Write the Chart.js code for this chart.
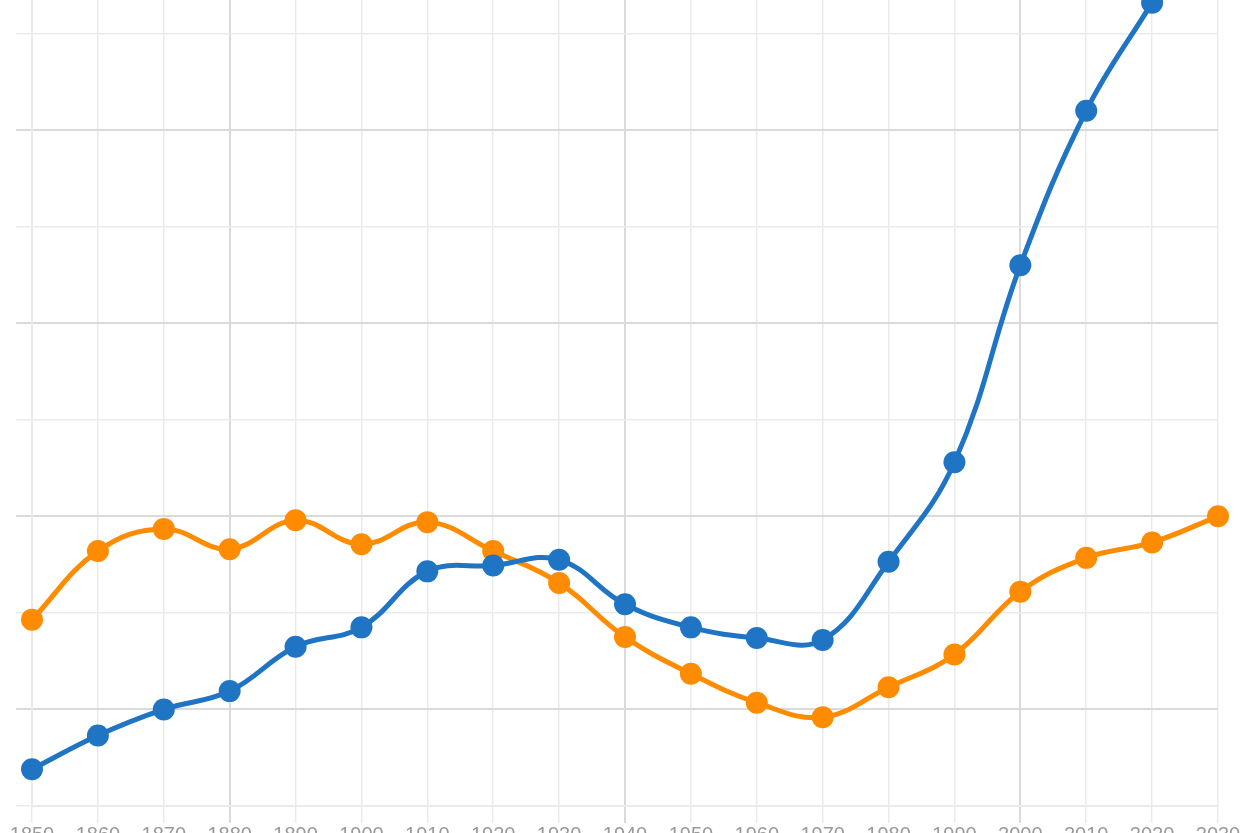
<!DOCTYPE html>
<html>
<head>
<meta charset="utf-8">
<script src="https://cdn.jsdelivr.net/npm/chart.js@4"></script>
<style>
  html, body { margin: 0; padding: 0; overflow: hidden; background: #fff; }
  #wrap { position: absolute; left: 0; top: -74px; width: 1250px; height: 921px; }
</style>
</head>
<body>
<div id="wrap"><canvas id="chart"></canvas></div>
<script>
const YEARS = [`1850`, `1860`, `1870`, `1880`, `1890`, `1900`, `1910`, `1920`, `1930`, `1940`,
  `1950`, `1960`, `1970`, `1980`, `1990`, `2000`, `2010`, `2020`, `2030`]
const BLUE_VALUES = [3.8, 7.3, 10.0, 11.9, 16.5, 18.5, 24.3, 24.9, 25.5, 20.9,
  18.5, 17.4, 17.2, 25.3, 35.6, 56.0, 72.0, 83.2, null]
const ORANGE_VALUES = [19.3, 26.4, 28.7, 26.6, 29.6, 27.1, 29.4, 26.4, 23.1, 17.5,
  13.7, 10.7, 9.2, 12.3, 15.7, 22.2, 25.7, 27.3, 30.0]
const COLORS = {
  blue: `#1f74c4`,
  orange: `#ff8c00`,
  gridDark: `#dadada`,
  gridLight: `#ebebeb`,
  label: `#9a9a9a`
}

const dataset = (data, color) => ({
  data,
  borderColor: color,
  backgroundColor: color,
  borderWidth: 5,
  pointRadius: 11,
  pointHoverRadius: 11,
  pointBorderWidth: 0,
  tension: 0.4,
  fill: false
})

const el = document.getElementById(`chart`).getContext(`2d`)
new Chart(el, {
  type: `line`,
  data: {
    labels: YEARS,
    datasets: [
      dataset(BLUE_VALUES, COLORS.blue),
      dataset(ORANGE_VALUES, COLORS.orange)
    ]
  },
  options: {
    responsive: true,
    maintainAspectRatio: false,
    animation: false,
    layout: { padding: { left: 16, right: 32, top: 4, bottom: 0 } },
    plugins: { legend: { display: false }, tooltip: { enabled: false } },
    scales: {
      x: {
        offset: false,
        border: { color: COLORS.gridLight, width: 2 },
        grid: {
          tickLength: 17,
          color: ctx => ctx.index % 6 === 3 ? COLORS.gridDark : COLORS.gridLight,
          lineWidth: ctx => ctx.index % 6 === 3 ? 2 : 1.5
        },
        ticks: {
          color: COLORS.label,
          padding: 0,
          maxRotation: 0,
          autoSkip: false,
          font: { family: `Liberation Sans`, size: 20 }
        }
      },
      y: {
        min: 0,
        max: 90,
        border: { color: COLORS.gridLight, width: 2 },
        grid: {
          tickLength: 16,
          color: ctx => ctx.tick && ctx.tick.value % 20 === 10 ? COLORS.gridDark : COLORS.gridLight,
          lineWidth: ctx => ctx.tick && ctx.tick.value % 20 === 10 ? 2 : 1.5
        },
        ticks: { display: false, stepSize: 10 }
      }
    }
  }
})
</script>
</body>
</html>
